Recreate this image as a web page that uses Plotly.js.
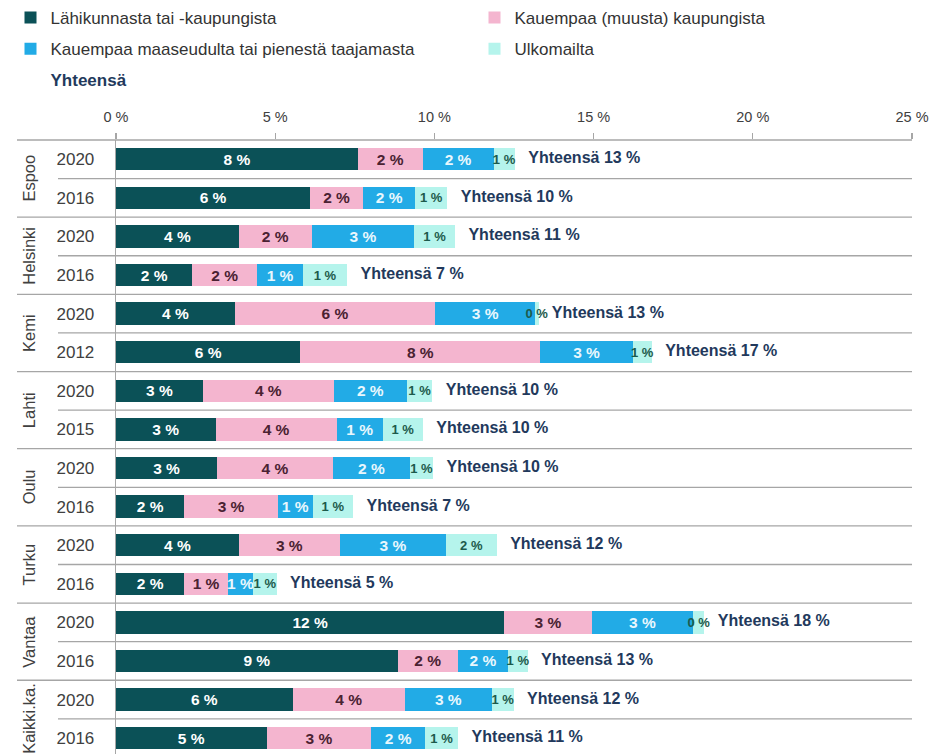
<!DOCTYPE html>
<html><head><meta charset="utf-8">
<script src="https://cdn.plot.ly/plotly-3.0.1.min.js"></script>
<style>html,body{margin:0;padding:0;background:#fff}</style>
</head><body><div id="chart" style="width:948px;height:754px"></div>
<script>
const cities = ['Espoo','Helsinki','Kemi','Lahti','Oulu','Turku','Vantaa','Kaikki.ka.'];
const years = ['2020','2016','2020','2016','2020','2012','2020','2015','2020','2016','2020','2016','2020','2016','2020','2016'];
const seriesNames = ['Lähikunnasta tai -kaupungista','Kauempaa (muusta) kaupungista','Kauempaa maaseudulta tai pienestä taajamasta','Ulkomailta'];
const lahikunnasta        = [7.60,6.10,3.86,2.40,3.74,5.79,2.73,3.13,3.18,2.15,3.86,2.15,12.20,8.85,5.55,4.73];
const kauempaaKaupungista = [2.03,1.66,2.28,2.03,6.28,7.54,4.11,3.80,3.63,2.93,3.17,1.36,2.74,1.88,3.52,3.29];
const maaseudulta         = [2.23,1.64,3.23,1.45,3.15,2.90,2.30,1.45,2.43,1.10,3.34,0.80,3.19,1.59,2.74,1.69];
const ulkomailta          = [0.67,1.01,1.28,1.38,0.10,0.60,0.80,1.26,0.72,1.27,1.59,0.74,0.35,0.61,0.68,1.04];
const xTicks = [0,5,10,15,20,25];
const totalLabel = 'Yhteensä';

const FONT = '"Liberation Sans", Arial, sans-serif';
const colors = ['#0b5157','#f4b5cf','#22abe6','#b5f4ec'];
const textColors = ['#ffffff','#4a2232','#e9f7fd','#1d5a4b'];
const textSizes = [15.5,15.5,15.5,13];
const legendOf = ['legend','legend2','legend','legend2'];
const series = [lahikunnasta,kauempaaKaupungista,maaseudulta,ulkomailta];
const rows = years.map((_, i) => i);
const totals = rows.map(i => series.reduce((s, a) => s + a[i], 0));

const traces = series.map((vals, k) => ({
  type: 'bar', orientation: 'h', name: seriesNames[k],
  legend: legendOf[k], legendgroup: 'g' + k,
  y: rows, x: vals, width: 0.58,
  marker: {color: colors[k], line: {width: 0}},
  texttemplate: '%{x:.0f} %', textposition: 'inside', insidetextanchor: 'middle',
  textangle: 0, constraintext: 'none', cliponaxis: false,
  insidetextfont: {family: FONT, size: textSizes[k], color: textColors[k], weight: 'bold'},
  hoverinfo: 'skip'
}));
traces.push({
  type: 'scatter', mode: 'text', y: rows, x: totals, showlegend: false,
  text: totals.map(t => '\u00a0\u00a0\u00a0' + totalLabel + ' ' + Math.round(t) + ' %'),
  textposition: 'middle right', cliponaxis: false,
  textfont: {family: FONT, size: 16, color: '#22395c', weight: 'bold'},
  hoverinfo: 'skip'
});
traces.push({
  type: 'scatter', mode: 'lines', x: [null], y: [null], legend: 'legend', legendgroup: 'g5',
  name: '<span style="color:#22395c;font-weight:bold">' + totalLabel + '</span>',
  line: {color: 'rgba(0,0,0,0)'}, hoverinfo: 'skip'
});

const L = 116, R = 36, T = 140;
const plotW = 948 - L - R;
const px = p => (p - L) / plotW;
const lineColor = '#a6a6a6';
const shapes = [{type: 'line', xref: 'paper', yref: 'paper', x0: px(17), x1: 1, y0: 1, y1: 1,
  line: {color: lineColor, width: 1.3}}];
for (let i = 0; i < rows.length - 1; i++) {
  shapes.push({type: 'line', xref: 'paper', yref: 'y', x0: (i % 2 === 1) ? px(17) : px(58), x1: 1,
    y0: i + 0.5, y1: i + 0.5, line: {color: lineColor, width: 1.3}});
}
const annotations = cities.map((c, j) => ({
  text: c, xref: 'paper', yref: 'y', x: px(29), y: 2 * j + 0.5, textangle: -90,
  showarrow: false, xanchor: 'center', yanchor: 'middle',
  font: {family: FONT, size: 16.5, color: '#404040'}
}));

const legendBase = {orientation: 'v', xref: 'paper', yref: 'container', y: 1.002, xanchor: 'left', yanchor: 'top',
  traceorder: 'grouped', tracegroupgap: 6, font: {family: FONT, size: 17, color: '#333333'},
  itemclick: false, itemdoubleclick: false, bgcolor: 'rgba(0,0,0,0)', borderwidth: 0};

const layout = {
  width: 948, height: 754,
  margin: {l: L, r: R, t: T, b: 0, pad: 0},
  paper_bgcolor: '#fff', plot_bgcolor: '#fff',
  barmode: 'stack',
  font: {family: FONT, color: '#404040'},
  showlegend: true,
  legend: Object.assign({}, legendBase, {x: px(10.5)}),
  legend2: Object.assign({}, legendBase, {x: px(474.5)}),
  xaxis: {side: 'top', range: [0, 25], tickvals: xTicks, ticktext: xTicks.map(v => v + ' %'),
    ticks: 'outside', ticklen: 6, tickwidth: 1.3, tickcolor: lineColor, ticklabelstandoff: 5,
    showgrid: false, zeroline: false, showline: false, fixedrange: true,
    tickfont: {family: FONT, size: 14.5, color: '#404040'}},
  yaxis: {range: [(754 - T) / 38.59 - 0.5, -0.5], tickvals: rows, ticktext: years,
    ticks: '', showline: true, linecolor: lineColor, linewidth: 1.3,
    showgrid: false, zeroline: false, fixedrange: true, ticklabelstandoff: 17,
    tickfont: {family: FONT, size: 17, color: '#404040'}},
  shapes: shapes, annotations: annotations
};
Plotly.newPlot('chart', traces, layout, {displayModeBar: false, staticPlot: true});
</script></body></html>
